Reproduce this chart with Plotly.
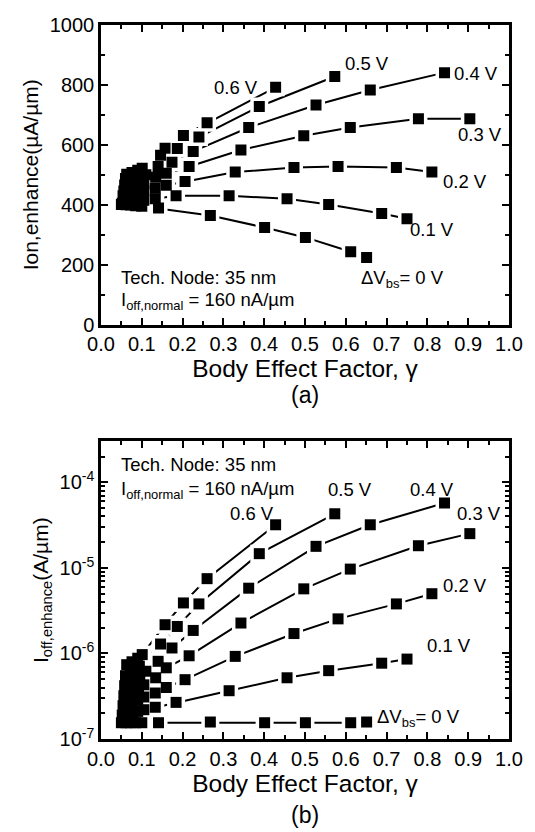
import plotly.graph_objects as go
import numpy as np

# ---------------- data ----------------
series_labels = ["0 V", "0.1 V", "0.2 V", "0.3 V", "0.4 V", "0.5 V", "0.6 V"]

gamma_00 = [0.651, 0.612, 0.501, 0.401, 0.268, 0.141, 0.100, 0.085, 0.072, 0.061, 0.050]
ion_00 = [224, 243, 291, 324, 364, 389, 395, 397, 399, 400, 401]
ioff_00 = [1.58e-7, 1.55e-7, 1.55e-7, 1.55e-7, 1.58e-7, 1.55e-7, 1.55e-7, 1.55e-7, 1.55e-7, 1.55e-7, 1.55e-7]

gamma_01 = [0.750, 0.688, 0.558, 0.456, 0.314, 0.184, 0.133, 0.105, 0.090, 0.077, 0.065, 0.052]
ion_01 = [353, 371, 401, 420, 430, 430, 420, 415, 412, 410, 408, 405]
ioff_01 = [8.6e-7, 7.7e-7, 6.3e-7, 5.2e-7, 3.67e-7, 2.68e-7, 2.35e-7, 2.2e-7, 2.1e-7, 2.0e-7, 1.95e-7, 1.9e-7]

gamma_02 = [0.811, 0.724, 0.581, 0.473, 0.329, 0.206, 0.160, 0.133, 0.105, 0.090, 0.078, 0.066, 0.054]
ion_02 = [509, 524, 528, 524, 509, 478, 465, 455, 447, 442, 438, 434, 430]
ioff_02 = [5.0e-6, 3.8e-6, 2.54e-6, 1.71e-6, 9.25e-7, 4.94e-7, 4.0e-7, 3.45e-7, 3.1e-7, 2.85e-7, 2.7e-7, 2.55e-7, 2.45e-7]

gamma_03 = [0.904, 0.778, 0.611, 0.497, 0.343, 0.216, 0.160, 0.134, 0.105, 0.092, 0.080, 0.068, 0.056]
ion_03 = [687, 687, 658, 630, 583, 528, 505, 492, 470, 462, 456, 450, 446]
ioff_03 = [2.52e-5, 1.82e-5, 9.7e-6, 5.7e-6, 2.27e-6, 9.4e-7, 6.8e-7, 5.2e-7, 4.3e-7, 3.9e-7, 3.6e-7, 3.4e-7, 3.2e-7]

gamma_04 = [0.842, 0.660, 0.527, 0.362, 0.226, 0.174, 0.140, 0.110, 0.095, 0.082, 0.070, 0.058]
ion_04 = [841, 783, 733, 658, 578, 542, 528, 500, 488, 480, 472, 466]
ioff_04 = [5.75e-5, 3.2e-5, 1.79e-5, 5.8e-6, 1.86e-6, 1.16e-6, 8.1e-7, 6.2e-7, 5.4e-7, 4.9e-7, 4.5e-7, 4.2e-7]

gamma_05 = [0.573, 0.388, 0.240, 0.187, 0.146, 0.094, 0.083, 0.072, 0.060]
ion_05 = [828, 728, 626, 588, 565, 505, 500, 494, 488]
ioff_05 = [4.3e-5, 1.47e-5, 3.8e-6, 2.07e-6, 1.29e-6, 7.1e-7, 6.5e-7, 5.9e-7, 5.5e-7]

gamma_06 = [0.428, 0.260, 0.202, 0.157, 0.101, 0.090, 0.076, 0.063]
ion_06 = [792, 674, 631, 589, 522, 515, 508, 502]
ioff_06 = [3.2e-5, 7.5e-6, 3.9e-6, 2.17e-6, 9.7e-7, 8.8e-7, 8.0e-7, 7.4e-7]

x_ticks = [0.0, 0.1, 0.2, 0.3, 0.4, 0.5, 0.6, 0.7, 0.8, 0.9, 1.0]
ion_ticks = [0, 200, 400, 600, 800, 1000]
ioff_tick_exps = [-7, -6, -5, -4]

gammas = [gamma_00, gamma_01, gamma_02, gamma_03, gamma_04, gamma_05, gamma_06]
ions = [ion_00, ion_01, ion_02, ion_03, ion_04, ion_05, ion_06]
ioffs = [ioff_00, ioff_01, ioff_02, ioff_03, ioff_04, ioff_05, ioff_06]

FONT = "Liberation Sans, Arial, sans-serif"

fig = go.Figure()

# lines
for g, a, b in zip(gammas, ions, ioffs):
    fig.add_trace(go.Scatter(x=g, y=a, mode="lines", line=dict(color="black", width=2),
                             xaxis="x", yaxis="y", showlegend=False, hoverinfo="skip"))
    fig.add_trace(go.Scatter(x=g, y=b, mode="lines", line=dict(color="black", width=2),
                             xaxis="x2", yaxis="y2", showlegend=False, hoverinfo="skip"))
# halos (gaps between lines and markers)
for g, a, b in zip(gammas, ions, ioffs):
    fig.add_trace(go.Scatter(x=g, y=a, mode="markers",
                             marker=dict(symbol="square", size=18, color="white", line=dict(width=0)),
                             xaxis="x", yaxis="y", showlegend=False, hoverinfo="skip"))
    fig.add_trace(go.Scatter(x=g, y=b, mode="markers",
                             marker=dict(symbol="square", size=18, color="white", line=dict(width=0)),
                             xaxis="x2", yaxis="y2", showlegend=False, hoverinfo="skip"))
# markers
for g, a, b in zip(gammas, ions, ioffs):
    fig.add_trace(go.Scatter(x=g, y=a, mode="markers",
                             marker=dict(symbol="square", size=11, color="black", line=dict(width=0)),
                             xaxis="x", yaxis="y", showlegend=False))
    fig.add_trace(go.Scatter(x=g, y=b, mode="markers",
                             marker=dict(symbol="square", size=11, color="black", line=dict(width=0)),
                             xaxis="x2", yaxis="y2", showlegend=False))

axis_common = dict(showline=True, linecolor="black", linewidth=2.5, mirror="allticks",
                   ticks="inside", ticklen=7, tickwidth=2, tickcolor="black",
                   showgrid=False, zeroline=False,
                   tickfont=dict(family=FONT, size=20, color="black"))

xcommon = dict(axis_common, range=[0, 1.0], tickvals=x_ticks,
               ticktext=[f"{v:.1f}" for v in x_ticks],
               minor=dict(ticks="inside", ticklen=4, tickwidth=2, tickcolor="black",
                          tickvals=[0.05, 0.15, 0.25, 0.35, 0.45, 0.55, 0.65, 0.75, 0.85, 0.95]))

minor_log = []
for e in range(-7, -3):
    for m in range(2, 10):
        v = m * 10.0 ** e
        if np.log10(v) <= -3.5:
            minor_log.append(v)

W, H = 535, 832
ML, MR, MT, MB = 101, 18, 25, 93

fig.update_layout(
    width=W, height=H,
    margin=dict(l=ML, r=MR, t=MT, b=MB),
    paper_bgcolor="white", plot_bgcolor="white",
    font=dict(family=FONT, color="black"),
    xaxis=dict(xcommon, domain=[0, 1], anchor="y",
               title=dict(text="Body Effect Factor, γ", font=dict(family=FONT, size=24.5), standoff=4)),
    yaxis=dict(axis_common, domain=[0.5804, 1.0], anchor="x", range=[0, 1000],
               tickvals=ion_ticks,
               minor=dict(ticks="inside", ticklen=4, tickwidth=2, tickcolor="black",
                          tickvals=[100, 300, 500, 700, 900]),
               title=dict(text="Ion,enhance(µA/µm)", font=dict(family=FONT, size=21), standoff=6)),
    xaxis2=dict(xcommon, domain=[0, 1], anchor="y2",
                title=dict(text="Body Effect Factor, γ", font=dict(family=FONT, size=24.5), standoff=4)),
    yaxis2=dict(axis_common, domain=[0, 0.4168], anchor="x2", type="log", range=[-7, -3.52],
                tickvals=[10.0 ** e for e in ioff_tick_exps],
                ticktext=[f"10<sup>{e}</sup>" for e in ioff_tick_exps],
                minor=dict(ticks="inside", ticklen=4, tickwidth=2, tickcolor="black",
                           tickvals=minor_log),
                title=dict(text="I<sub>off,enhance</sub>(A/µm)", font=dict(family=FONT, size=21), standoff=6)),
)

ann_font = dict(family=FONT, size=18.5, color="black")
top_labels = [
    ("0.6 V", 0.330, 792), ("0.5 V", 0.652, 872), ("0.4 V", 0.919, 837),
    ("0.3 V", 0.929, 636), ("0.2 V", 0.891, 476), ("0.1 V", 0.811, 317),
    ("ΔV<sub>bs</sub>= 0 V", 0.739, 152),
]
for t, x, y in top_labels:
    fig.add_annotation(text=t, x=x, y=y, xref="x", yref="y", showarrow=False, font=ann_font)
fig.add_annotation(text="Tech. Node: 35 nm", x=0.045, y=156, xref="x", yref="y",
                   xanchor="left", showarrow=False, font=ann_font)
fig.add_annotation(text="I<sub>off,normal</sub> = 160 nA/µm", x=0.045, y=78, xref="x", yref="y",
                   xanchor="left", showarrow=False, font=ann_font)

bot_labels = [
    ("0.6 V", 0.371, -4.365), ("0.5 V", 0.611, -4.084), ("0.4 V", 0.811, -4.084),
    ("0.3 V", 0.927, -4.365), ("0.2 V", 0.891, -5.204), ("0.1 V", 0.854, -5.905),
    ("ΔV<sub>bs</sub>= 0 V", 0.779, -6.754),
]
for t, x, y in bot_labels:
    fig.add_annotation(text=t, x=x, y=y, xref="x2", yref="y2", showarrow=False, font=ann_font)
fig.add_annotation(text="Tech. Node: 35 nm", x=0.045, y=-3.792, xref="x2", yref="y2",
                   xanchor="left", showarrow=False, font=ann_font)
fig.add_annotation(text="I<sub>off,normal</sub> = 160 nA/µm", x=0.045, y=-4.084, xref="x2", yref="y2",
                   xanchor="left", showarrow=False, font=ann_font)

# panel labels, placed by pixel position converted to paper coordinates
H_plot = H - MT - MB
W_plot = W - ML - MR
for txt, py in (("(a)", 395), ("(b)", 815)):
    fig.add_annotation(text=txt, x=(309 - ML) / W_plot, y=(H - MB - py) / H_plot,
                       xref="paper", yref="paper", yanchor="middle", showarrow=False,
                       font=dict(family=FONT, size=23))

fig.write_html("out.html", config={"displayModeBar": False},
               post_script="document.body.style.margin='0';")
